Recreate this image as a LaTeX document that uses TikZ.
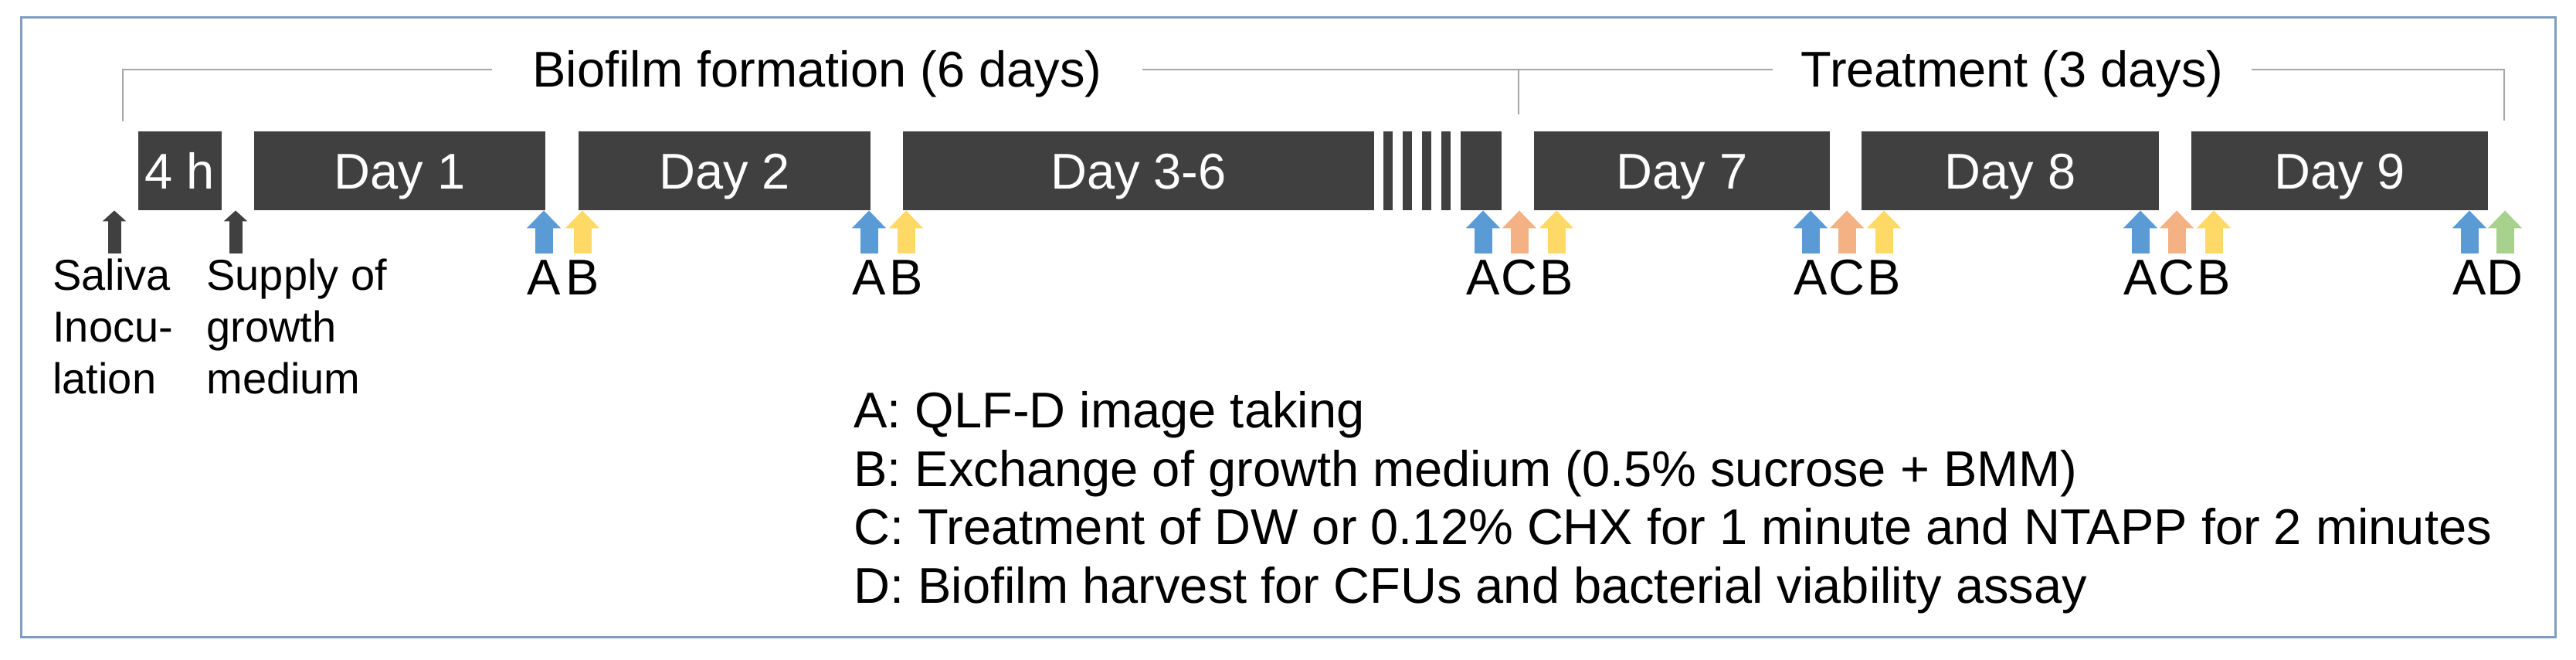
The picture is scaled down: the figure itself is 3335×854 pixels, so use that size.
\documentclass[tikz,border=0pt]{standalone}
\usepackage{fontspec}
\setmainfont{Liberation Sans}
\usetikzlibrary{arrows.meta}

\definecolor{barclr}{RGB}{64,64,64}
\definecolor{qblue}{RGB}{91,155,213}
\definecolor{qorange}{RGB}{244,177,131}
\definecolor{qyellow}{RGB}{255,217,102}
\definecolor{qgreen}{RGB}{169,209,142}
\definecolor{brkgray}{RGB}{166,166,166}
\definecolor{frameclr}{RGB}{127,157,190}

\begin{document}
\begin{tikzpicture}[x=0.5pt, y=-0.5pt,
    daybox/.style={fill=barclr, text=white, inner sep=0pt, minimum height=51pt,
      font=\fontsize{32.5}{39}\selectfont, text height=24pt, text depth=0pt},
    ttl/.style={font=\fontsize{32.5}{39}\selectfont, text height=23pt, text depth=0pt, inner ysep=0pt},
    evl/.style={font=\fontsize{32.5}{39}\selectfont, text height=22.5pt, text depth=0pt,
      inner ysep=4.5pt, inner xsep=0pt, anchor=base},
    side/.style={font=\fontsize{28}{33.5}\selectfont, align=left, inner sep=0pt, anchor=north west},
    evt/.style={line width=11.5pt, -{Triangle[width=21.5pt,length=11.5pt]}},
    evA/.style={evt, draw=qblue},
    evB/.style={evt, draw=qyellow},
    evC/.style={evt, draw=qorange},
    evD/.style={evt, draw=qgreen},
    inarr/.style={line width=8.5pt, draw=barclr, -{Triangle[width=15pt,length=7pt]}},
    brk/.style={draw=brkgray, line width=1.25pt}]
    \useasboundingbox (0,0) rectangle (3335,854);
    \draw[frameclr, line width=1.5pt] (27,23) rectangle (3308,824);

    % time line
    \node[daybox, minimum width=54pt] (h4) at (233,221) {4 h};
    \node[daybox, minimum width=188.5pt] (d1) at (517.5,221) {Day 1};
    \node[daybox, minimum width=189pt] (d2) at (938,221) {Day 2};
    \node[daybox, minimum width=305pt] (d36) at (1474,221) {Day 3-6};
    \node[daybox, minimum width=6pt] (br1) at (1797,221) {};
    \node[daybox, minimum width=6pt] (br2) at (1822,221) {};
    \node[daybox, minimum width=6pt] (br3) at (1847,221) {};
    \node[daybox, minimum width=6pt] (br4) at (1872,221) {};
    \node[daybox, minimum width=26.5pt] (d6e) at (1917.5,221) {};
    \node[daybox, minimum width=191.5pt] (d7) at (2177.5,221) {Day 7};
    \node[daybox, minimum width=192.5pt] (d8) at (2602.5,221) {Day 8};
    \node[daybox, minimum width=192pt] (d9) at (3029,221) {Day 9};

    % periods
    \node[ttl, inner xsep=26pt] (bf) at (1058,90) {Biofilm formation (6 days)};
    \node[ttl, inner xsep=18pt] (tr) at (2605,90) {Treatment (3 days)};
    \coordinate (lb) at (159,157);
    \coordinate (rb) at (3242,156);
    \coordinate (mt) at (1966,148);
    \draw[brk] (lb) |- (bf.west);
    \draw[brk] (bf.east) -- (tr.west);
    \draw[brk] (tr.east) -| (rb);
    \draw[brk] (mt) -- (mt |- bf.east);

    % start events
    \coordinate (sal) at (148,328);
    \coordinate (sup) at (305,328);
    \draw[inarr] (sal) -- (sal |- h4.south);
    \draw[inarr] (sup) -- (sup |- h4.south);
    \node[side] (saltxt) at (68,335) {Saliva\\Inocu-\\lation};
    \node[side] (suptxt) at (267,335) {Supply of\\growth\\medium};

    % daily events
    \node[evl] (a1) at (704,382) {A};
    \node[evl] (b1) at (754,382) {B};
    \node[evl] (a2) at (1125,382) {A};
    \node[evl] (b2) at (1173,382) {B};
    \node[evl] (a3) at (1920,382) {A};
    \node[evl] (c3) at (1967,382) {C};
    \node[evl] (b3) at (2015,382) {B};
    \node[evl] (a4) at (2344,382) {A};
    \node[evl] (c4) at (2391,382) {C};
    \node[evl] (b4) at (2439,382) {B};
    \node[evl] (a5) at (2771,382) {A};
    \node[evl] (c5) at (2818,382) {C};
    \node[evl] (b5) at (2866,382) {B};
    \node[evl] (a6) at (3197,382) {A};
    \node[evl] (dd6) at (3243,382) {D};
    \draw[evA] (a1) -- (a1 |- d1.south);
    \draw[evB] (b1) -- (b1 |- d1.south);
    \draw[evA] (a2) -- (a2 |- d1.south);
    \draw[evB] (b2) -- (b2 |- d1.south);
    \draw[evA] (a3) -- (a3 |- d1.south);
    \draw[evC] (c3) -- (c3 |- d1.south);
    \draw[evB] (b3) -- (b3 |- d1.south);
    \draw[evA] (a4) -- (a4 |- d1.south);
    \draw[evC] (c4) -- (c4 |- d1.south);
    \draw[evB] (b4) -- (b4 |- d1.south);
    \draw[evA] (a5) -- (a5 |- d1.south);
    \draw[evC] (c5) -- (c5 |- d1.south);
    \draw[evB] (b5) -- (b5 |- d1.south);
    \draw[evA] (a6) -- (a6 |- d1.south);
    \draw[evD] (dd6) -- (dd6 |- d1.south);

    % key
    \node[side, font=\fontsize{32.5}{37.75}\selectfont] (key) at (1105,506)
      {A: QLF-D image taking\\
       B: Exchange of growth medium (0.5\% sucrose + BMM)\\
       C: Treatment of DW or 0.12\% CHX for 1 minute and NTAPP for 2 minutes\\
       D: Biofilm harvest for CFUs and bacterial viability assay};
\end{tikzpicture}
\end{document}
